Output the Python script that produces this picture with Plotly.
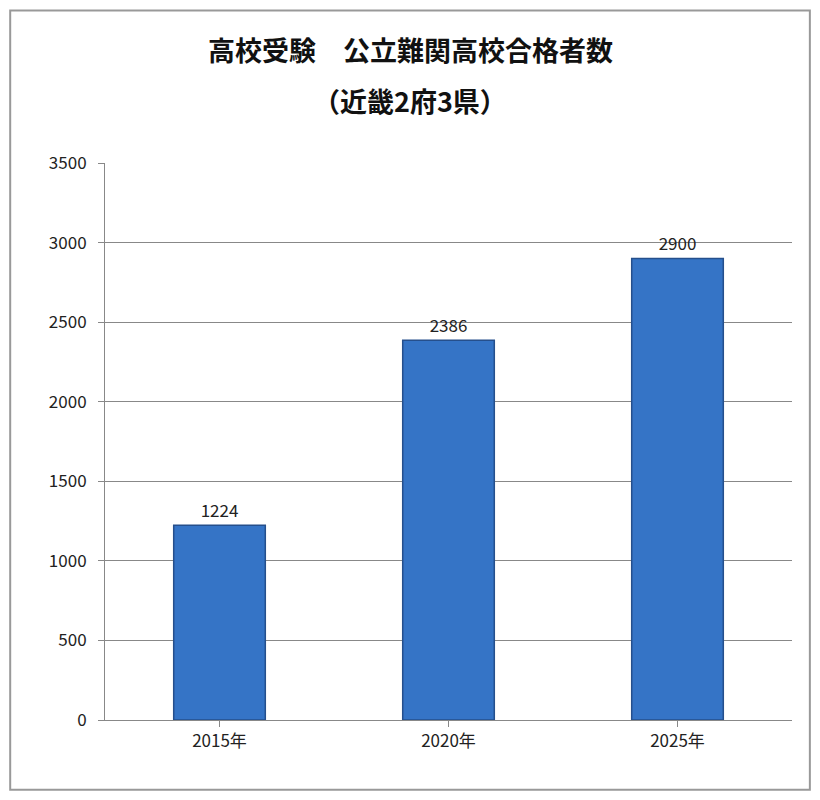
import plotly.graph_objects as go

categories = ["2015年", "2020年", "2025年"]
values = [1224, 2386, 2900]
title_lines = ["高校受験　公立難関高校合格者数", "（近畿2府3県）"]

fig = go.Figure(go.Bar(
    x=categories, y=values, text=[str(v) for v in values], textposition="outside",
    textfont=dict(size=17, color="#222"),
    marker=dict(color="#3574c6", line=dict(color="#254f8c", width=1.5)),
    width=0.4, cliponaxis=False))

fig.update_layout(
    width=804, height=784, paper_bgcolor="white", plot_bgcolor="white",
    font=dict(family="Noto Sans CJK JP", color="#222"),
    margin=dict(l=97, r=20, t=155, b=72),
    showlegend=False,
    annotations=[
        dict(text="<b>" + title_lines[0] + "</b>", xref="paper", yref="paper", x=0.444, y=1.203,
             showarrow=False, xanchor="center", yanchor="middle", font=dict(size=27, color="#111")),
        dict(text="<b>" + title_lines[1] + "</b>", xref="paper", yref="paper", x=0.444, y=1.113,
             showarrow=False, xanchor="center", yanchor="middle", font=dict(size=27, color="#111")),
    ],
    shapes=[dict(type="rect", xref="paper", yref="paper", x0=-0.138, x1=1.026, y0=-0.125, y1=1.274,
                 line=dict(color="#999", width=2))],
)
fig.update_yaxes(range=[0, 3500], dtick=500, showgrid=True, gridcolor="#888", gridwidth=1,
                 tickfont=dict(size=17), ticks="outside", ticklen=6, tickcolor="#888",
                 showline=True, linecolor="#888", ticklabelstandoff=8)
fig.update_xaxes(showline=True, linecolor="#888", tickfont=dict(size=17), ticks="outside",
                 ticklen=6, tickcolor="#888")
fig.write_html("out.html")
